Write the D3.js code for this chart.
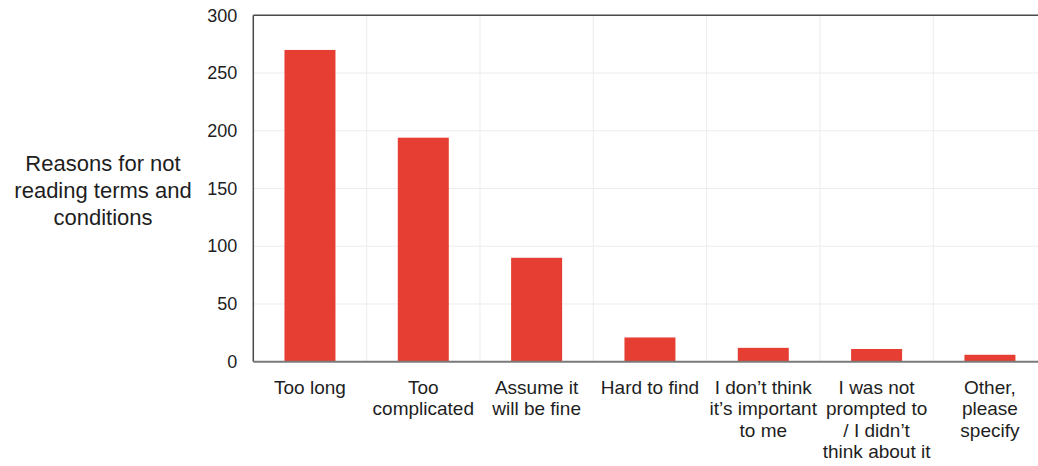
<!DOCTYPE html>
<html>
<head>
<meta charset="utf-8">
<script src="https://cdn.jsdelivr.net/npm/d3@7"></script>
<style>
  html, body { margin: 0; padding: 0; background: #fff; }
  svg { display: block; font-family: "Liberation Sans", Arial, sans-serif; }
</style>
</head>
<body>
<svg id="chart" width="1038" height="466"></svg>
<script>
const categories = [
  "Too long",
  "Too\ncomplicated",
  "Assume it\nwill be fine",
  "Hard to find",
  "I don\u2019t think\nit\u2019s important\nto me",
  "I was not\nprompted to\n/ I didn\u2019t\nthink about it",
  "Other,\nplease\nspecify"
];
const values = [270, 194, 90, 21, 12, 11, 6];
const yTicks = [0, 50, 100, 150, 200, 250, 300];
const yTitle = ["Reasons for not", "reading terms and", "conditions"];

(function () {
const svg = d3.select("#chart");
const pL = 253.3, pR = 1046.6, pT = 15.3, pB = 361.7;

const x = d3.scaleBand().domain(categories).range([pL, pR]).paddingInner(0.55).paddingOuter(0.275);
const y = d3.scaleLinear().domain([0, 300]).range([pB, pT]);
const gap = x.step() - x.bandwidth();

// gridlines
svg.append("g").selectAll("line").data(yTicks.slice(1, -1)).join("line")
  .attr("x1", pL).attr("x2", 1038)
  .attr("y1", d => y(d)).attr("y2", d => y(d))
  .attr("stroke", "#ececec").attr("stroke-width", 1);
svg.append("g").selectAll("line").data(categories.slice(1)).join("line")
  .attr("x1", d => x(d) - gap / 2)
  .attr("x2", d => x(d) - gap / 2)
  .attr("y1", pT).attr("y2", pB)
  .attr("stroke", "#ececec").attr("stroke-width", 1);

// bars
svg.append("g").selectAll("rect").data(values).join("rect")
  .attr("x", (d, i) => x(categories[i]))
  .attr("width", x.bandwidth())
  .attr("y", d => y(d))
  .attr("height", d => y(0) - y(d))
  .attr("fill", "#e63e32");

// frame
svg.append("line").attr("x1", pL).attr("x2", 1038).attr("y1", pT).attr("y2", pT)
  .attr("stroke", "#4a4a4a").attr("stroke-width", 1.5);
svg.append("line").attr("x1", pL).attr("x2", pL).attr("y1", pT).attr("y2", pB)
  .attr("stroke", "#4a4a4a").attr("stroke-width", 1.5);
svg.append("line").attr("x1", pL).attr("x2", 1038).attr("y1", pB).attr("y2", pB)
  .attr("stroke", "#7a7a7a").attr("stroke-width", 2);

// y axis
const yAxis = svg.append("g").attr("transform", `translate(${pL},0)`)
  .call(d3.axisLeft(y).tickValues(yTicks).tickSize(0).tickPadding(16));
yAxis.select(".domain").remove();
yAxis.selectAll("text").attr("font-size", 18).attr("fill", "#1e1e1e")
  .attr("font-family", "Liberation Sans, Arial, sans-serif");

// x axis
const xAxis = svg.append("g").attr("transform", `translate(0,${pB})`)
  .call(d3.axisBottom(x).tickSize(0).tickFormat(""));
xAxis.select(".domain").remove();
xAxis.selectAll(".tick").each(function(d) {
  const t = d3.select(this).append("text")
    .attr("fill", "#1e1e1e").attr("font-size", 19)
    .attr("text-anchor", "middle")
    .attr("font-family", "Liberation Sans, Arial, sans-serif");
  d.split("\n").forEach((line, i) => {
    t.append("tspan").attr("x", 0).attr("y", 32 + i * 21.5).text(line);
  });
});

// y title
const tt = svg.append("text").attr("text-anchor", "middle").attr("fill", "#1e1e1e")
  .attr("font-size", 22);
yTitle.forEach((line, i) => {
  tt.append("tspan").attr("x", 103).attr("y", 171 + i * 27).text(line);
});
})();
</script>
</body>
</html>
